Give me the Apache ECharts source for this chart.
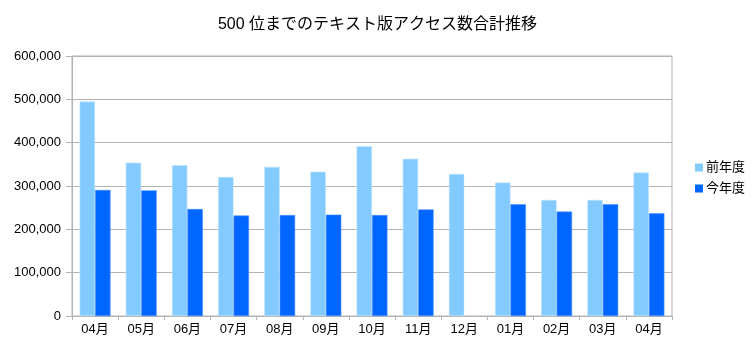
<!DOCTYPE html>
<html>
<head>
<meta charset="utf-8">
<script src="https://cdn.jsdelivr.net/npm/echarts@6/dist/echarts.min.js"></script>
<style>
html, body { margin: 0; padding: 0; background: #fff; }
#chart { width: 755px; height: 347px; }
</style>
</head>
<body>
<div id="chart"></div>
<script>
// Monthly access totals for text editions (top 500)
const months = ['04月', '05月', '06月', '07月', '08月', '09月', '10月', '11月', '12月', '01月', '02月', '03月', '04月'];
const prevYear = [495000, 354000, 348000, 321000, 344000, 333000, 392000, 363000, 328000, 308000, 268000, 268000, 331000];
const thisYear = [291000, 290000, 247000, 232000, 233000, 234000, 233000, 246000, null, 258000, 241000, 258000, 237000];
const seriesNames = ['前年度', '今年度'];

const FONT = '"Liberation Sans", "Noto Sans CJK JP", sans-serif';
const chart = echarts.init(document.getElementById('chart'), null, { renderer: 'canvas' });

chart.setOption({
  animation: false,
  backgroundColor: '#ffffff',
  title: {
    text: '500 位までのテキスト版アクセス数合計推移',
    left: 'center',
    top: 12,
    textStyle: { fontFamily: FONT, fontSize: 16, fontWeight: 'normal', color: '#000' }
  },
  legend: {
    orient: 'vertical',
    left: 690,
    top: 156,
    itemWidth: 8,
    itemHeight: 8,
    itemGap: 8,
    icon: 'rect',
    itemStyle: { borderWidth: 0 },
    textStyle: { fontFamily: FONT, fontSize: 13, color: '#000', padding: [0, 0, 0, -2] },
    data: seriesNames
  },
  grid: { left: 72, right: 83, top: 56, bottom: 31, show: true, borderColor: '#b3b3b3', borderWidth: 1 },
  xAxis: {
    type: 'category',
    data: months,
    axisLine: { lineStyle: { color: '#b3b3b3' } },
    axisTick: { show: true, length: 4, lineStyle: { color: '#b3b3b3' } },
    axisLabel: { fontFamily: FONT, fontSize: 13, color: '#000', margin: 7 }
  },
  yAxis: {
    type: 'value',
    min: 0,
    max: 600000,
    interval: 100000,
    axisLine: { show: true, lineStyle: { color: '#b3b3b3' } },
    axisTick: { show: true, length: 6, lineStyle: { color: '#b3b3b3' } },
    splitLine: { lineStyle: { color: '#b3b3b3' } },
    axisLabel: {
      fontFamily: FONT, fontSize: 13, color: '#000', margin: 11,
      formatter: v => v.toLocaleString('en-US')
    }
  },
  series: [
    {
      name: seriesNames[0], type: 'bar', data: prevYear,
      barGap: '0%', barCategoryGap: '33%',
      itemStyle: { color: '#83caff', borderColor: '#c4e5ff', borderWidth: 0.6 }
    },
    {
      name: seriesNames[1], type: 'bar', data: thisYear,
      itemStyle: { color: '#0066ff', borderColor: '#4d94ff', borderWidth: 0.6 }
    }
  ]
});
</script>
</body>
</html>
